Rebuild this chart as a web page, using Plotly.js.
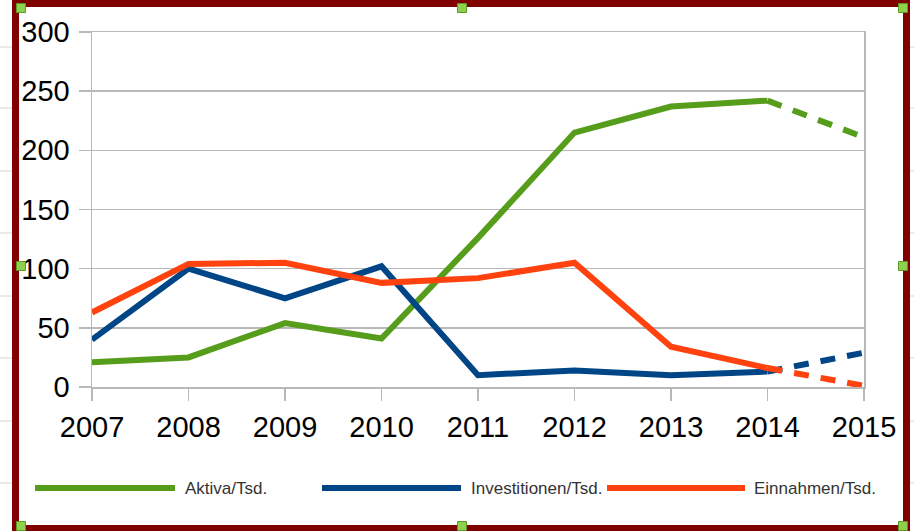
<!DOCTYPE html>
<html>
<head>
<meta charset="utf-8">
<script src="https://cdn.plot.ly/plotly-3.0.1.min.js"></script>
<style>
  html, body { margin: 0; padding: 0; background: #ffffff; }
  #chart { width: 914px; height: 531px; }
</style>
</head>
<body>
<div id="chart"></div>
<script>
// ---- data ----
var years = [2007, 2008, 2009, 2010, 2011, 2012, 2013, 2014, 2015];
var aktiva = [21, 25, 54, 41, 126, 215, 237, 242, 211];
var investitionen = [40, 100, 75, 102, 10, 14, 10, 13, 29];
var einnahmen = [63, 104, 105, 88, 92, 105, 34, 16, 1];
var seriesNames = ['Aktiva/Tsd.', 'Investitionen/Tsd.', 'Einnahmen/Tsd.'];
var seriesColors = ['#579d1c', '#004586', '#ff420e'];
var yTicks = [0, 50, 100, 150, 200, 250, 300];

// ---- geometry helpers (pixel -> paper) ----
var W = 914, H = 531;
var M = {l: 92, r: 50, t: 32, b: 144};
var PW = W - M.l - M.r, PH = H - M.t - M.b;
function px(x) { return (x - M.l) / PW; }
function py(y) { return (H - M.b - y) / PH; }

var seriesData = [aktiva, investitionen, einnahmen];
var lastSolid = 7; // index of 2014
var traces = [];
seriesData.forEach(function (vals, i) {
  traces.push({
    x: years.slice(0, lastSolid + 1), y: vals.slice(0, lastSolid + 1),
    type: 'scatter', mode: 'lines', name: seriesNames[i], showlegend: false,
    line: {color: seriesColors[i], width: 6, shape: 'linear'}, hoverinfo: 'x+y'
  });
  traces.push({
    x: years.slice(lastSolid), y: vals.slice(lastSolid),
    type: 'scatter', mode: 'lines', name: seriesNames[i], showlegend: false,
    line: {color: seriesColors[i], width: 6, dash: '15px,12px'}, hoverinfo: 'x+y'
  });
});

var gridColor = '#b8b8b8';
var shapes = [];
var annotations = [];

// spreadsheet row lines outside the frame
[47, 108, 171, 233, 296, 358, 421, 483].forEach(function (y) {
  shapes.push({type: 'line', xref: 'paper', yref: 'paper', x0: px(0), x1: px(13), y0: py(y), y1: py(y),
    line: {color: '#d4d4d4', width: 1}});
  shapes.push({type: 'line', xref: 'paper', yref: 'paper', x0: px(909), x1: px(914), y0: py(y), y1: py(y),
    line: {color: '#d4d4d4', width: 1}});
});

// border
shapes.push({type: 'rect', xref: 'paper', yref: 'paper',
  x0: px(15.5), x1: px(906.5), y0: py(3.5), y1: py(528.5),
  line: {color: '#800000', width: 7}, fillcolor: 'rgba(0,0,0,0)'});

// handles
[[21, 8], [462, 8], [903, 8], [21, 266], [903, 266], [21, 526], [462, 526], [903, 526]].forEach(function (h) {
  shapes.push({type: 'rect', xref: 'paper', yref: 'paper',
    x0: px(h[0] - 4.5), x1: px(h[0] + 4.5), y0: py(h[1] - 4.5), y1: py(h[1] + 4.5),
    line: {color: '#5a9a20', width: 1}, fillcolor: '#8fd14f'});
});

// manual legend
var legendItems = [
  {x0: 35, x1: 175, tx: 183},
  {x0: 322, x1: 461, tx: 469},
  {x0: 607, x1: 745, tx: 752}
];
var legendY = 488;
legendItems.forEach(function (it, i) {
  shapes.push({type: 'line', xref: 'paper', yref: 'paper',
    x0: px(it.x0), x1: px(it.x1), y0: py(legendY), y1: py(legendY),
    line: {color: seriesColors[i], width: 6}});
  annotations.push({xref: 'paper', yref: 'paper', x: px(it.tx), y: py(legendY),
    xanchor: 'left', yanchor: 'middle', showarrow: false, text: seriesNames[i],
    font: {family: 'Liberation Sans, Arial, sans-serif', size: 17, color: '#333333'}});
});

var layout = {
  width: W, height: H,
  margin: M,
  paper_bgcolor: '#ffffff', plot_bgcolor: '#ffffff',
  showlegend: false,
  font: {family: 'Liberation Sans, Arial, sans-serif', color: '#000000'},
  xaxis: {
    range: [years[0], years[years.length - 1]],
    tickvals: years, ticktext: years.map(String),
    showgrid: false, zeroline: false,
    showline: true, mirror: true, linecolor: gridColor, linewidth: 1.5,
    ticks: 'outside', ticklen: 12, tickwidth: 1.5, tickcolor: gridColor,
    ticklabelstandoff: 2,
    tickfont: {family: 'Liberation Sans, Arial, sans-serif', size: 29, color: '#000000'},
    fixedrange: true
  },
  yaxis: {
    range: [0, 300],
    tickvals: yTicks, ticktext: yTicks.map(String),
    showgrid: true, gridcolor: gridColor, gridwidth: 1.5, zeroline: false,
    showline: true, mirror: true, linecolor: gridColor, linewidth: 1.5,
    ticks: 'outside', ticklen: 12, tickwidth: 1.5, tickcolor: gridColor,
    ticklabelstandoff: 3,
    tickfont: {family: 'Liberation Sans, Arial, sans-serif', size: 29, color: '#000000'},
    fixedrange: true
  },
  shapes: shapes,
  annotations: annotations
};

Plotly.newPlot('chart', traces, layout, {displayModeBar: false, staticPlot: true});
</script>
</body>
</html>
